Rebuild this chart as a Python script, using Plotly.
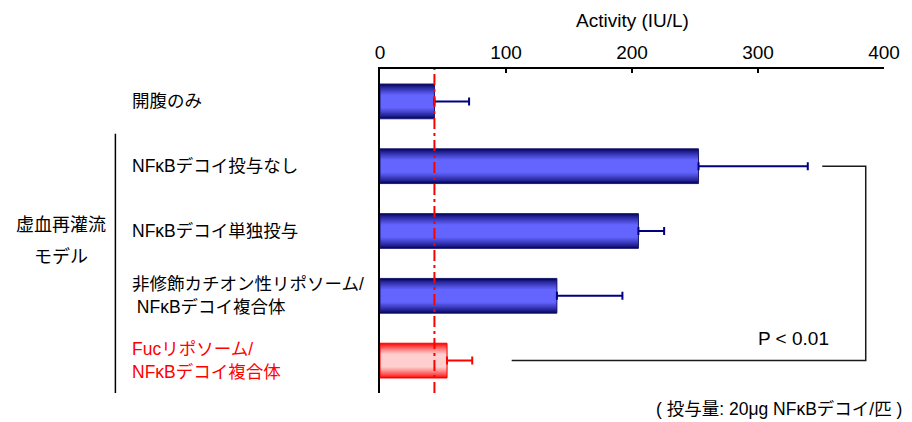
import plotly.graph_objects as go

# ---------------- data ----------------
labels = [
    "開腹のみ",
    "NFκBデコイ投与なし",
    "NFκBデコイ単独投与",
    "非修飾カチオン性リポソーム/<br>\u00a0NFκBデコイ複合体",
    "Fucリポソーム/<br>NFκBデコイ複合体",
]
values = [43.2, 252.8, 205.1, 140.4, 53.2]
errors = [27.5, 86.7, 20.4, 52.0, 20.0]
reference_level = 43.2          # red dash-dot line (開腹のみ level)
tick_values = [0, 100, 200, 300, 400]
axis_title = "Activity (IU/L)"
group_label = ["虚血再灌流", "モデル"]
p_text = "P < 0.01"
note_text = "( 投与量: 20μg NFκBデコイ/匹 )"
bracket_x = [351, 385.5, 385.5, 104.5]
bracket_rows = [1, 1, 4, 4]

# ---------------- style ----------------
FONT = "Liberation Sans, Arial, Noto Sans CJK JP, sans-serif"
BAR_W = 0.536
N_LAYERS = 12
BLUE_DARK, BLUE_BRIGHT = (0, 0, 90), (100, 100, 255)
RED_DARK, RED_BRIGHT = (255, 0, 0), (255, 206, 206)
label_colors = ["black", "black", "black", "black", "red"]
is_red = [False, False, False, False, True]


def mix(c1, c2, t):
    return "rgb({},{},{})".format(*[round(a + (b - a) * t) for a, b in zip(c1, c2)])


fig = go.Figure()

# gradient bars: overlaid bars of decreasing thickness
for i in range(N_LAYERS):
    frac = 1 - i * (0.62 / (N_LAYERS - 1))
    t = (i / (N_LAYERS - 1)) ** 0.75
    cols = [mix(RED_DARK, RED_BRIGHT, t) if r else mix(BLUE_DARK, BLUE_BRIGHT, t) for r in is_red]
    fig.add_trace(go.Bar(
        x=values, y=labels, orientation="h", width=BAR_W * frac,
        marker=dict(color=cols, line=dict(width=0)), hoverinfo="skip",
    ))

# outline
fig.add_trace(go.Bar(
    x=values, y=labels, orientation="h", width=BAR_W,
    marker=dict(color="rgba(0,0,0,0)",
                line=dict(width=1, color=["#1c1c70" if not r else "#ff0000" for r in is_red])),
    hoverinfo="skip",
))

# error bars
blue_idx = [k for k, r in enumerate(is_red) if not r]
red_idx = [k for k, r in enumerate(is_red) if r]
for idx, col in [(blue_idx, "#000080"), (red_idx, "#ff0000")]:
    fig.add_trace(go.Scatter(
        x=[values[k] for k in idx], y=[labels[k] for k in idx], mode="markers",
        marker=dict(size=2, opacity=0),
        error_x=dict(type="data", symmetric=False, array=[errors[k] for k in idx],
                     arrayminus=[0] * len(idx), color=col, thickness=2, width=4),
        hoverinfo="skip",
    ))

# significance bracket
fig.add_trace(go.Scatter(
    x=bracket_x, y=[labels[r] for r in bracket_rows], mode="lines",
    line=dict(color="#1a1a1a", width=1.5), hoverinfo="skip",
))

fig.update_layout(
    width=912, height=422,
    margin=dict(l=380, r=23, t=69, b=29),
    paper_bgcolor="white", plot_bgcolor="white",
    barmode="overlay", showlegend=False,
    font=dict(family=FONT, color="black", size=17.5),
    xaxis=dict(
        range=[0, 400], side="top", tickvals=tick_values,
        ticks="inside", ticklen=4, tickwidth=1.5, tickcolor="black",
        showline=True, linecolor="black", linewidth=2,
        showgrid=False, zeroline=False,
        tickfont=dict(size=19, family=FONT, color="black"),
    ),
    yaxis=dict(
        type="category", categoryarray=labels, range=[4.5, -0.5],
        showline=True, linecolor="black", linewidth=2,
        showticklabels=False, ticks="", showgrid=False, zeroline=False,
    ),
)

# reference level line
fig.add_shape(type="line", xref="x", yref="paper", x0=reference_level, x1=reference_level,
              y0=0, y1=1, line=dict(color="red", width=2, dash="11px,4px,3px,4px"))

# group bracket on the left
fig.add_shape(type="line", xref="paper", yref="y", x0=-0.525, x1=-0.525, y0=0.5, y1=4.5,
              line=dict(color="black", width=1.5))

# category labels
for k, lab in enumerate(labels):
    fig.add_annotation(text=lab, xref="paper", yref="y", x=-0.497, y=k,
                       xanchor="left", yanchor="middle", align="left", showarrow=False,
                       font=dict(size=17.5, color=label_colors[k], family=FONT))

# group labels
for txt, yp in zip(group_label, [0.5185, 0.4198]):
    fig.add_annotation(text=txt, xref="paper", yref="paper", x=-0.633, y=yp,
                       xanchor="center", yanchor="middle", showarrow=False,
                       font=dict(size=18, family=FONT))

# axis title
fig.add_annotation(text=axis_title, xref="paper", yref="paper", x=0.5, y=1.151,
                   xanchor="center", yanchor="middle", showarrow=False,
                   font=dict(size=19, family=FONT))

# p-value
fig.add_annotation(text=p_text, xref="paper", yref="paper", x=(798 - 380) / 509, y=(393 - 338) / 324,
                   xanchor="center", yanchor="middle", showarrow=False,
                   font=dict(size=19, family=FONT))

# note
fig.add_annotation(text=note_text, xref="paper", yref="paper", x=(909 - 380) / 509, y=(393 - 409) / 324,
                   xanchor="right", yanchor="middle", showarrow=False,
                   font=dict(size=17.5, family=FONT))

fig.write_html("out.html")
